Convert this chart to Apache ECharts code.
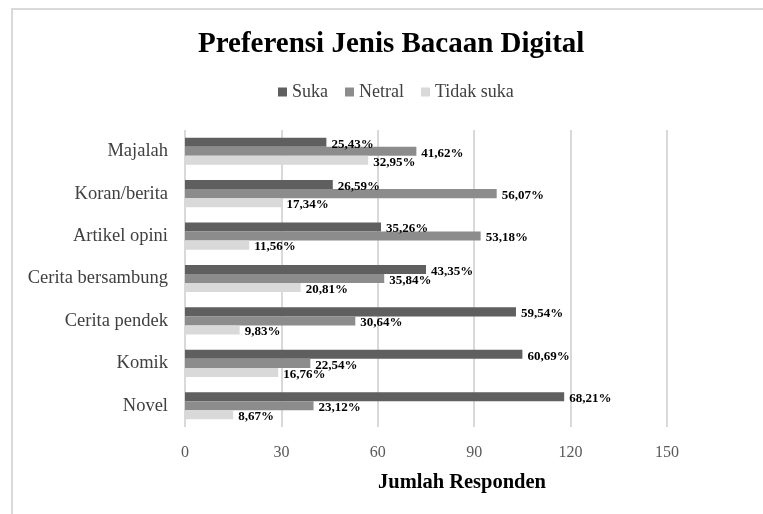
<!DOCTYPE html>
<html>
<head>
<meta charset="utf-8">
<script src="https://cdn.jsdelivr.net/npm/echarts@6/dist/echarts.min.js"></script>
<style>
  html, body { margin: 0; padding: 0; background: #fff; }
  #chart { width: 763px; height: 514px; }
</style>
</head>
<body>
<div id="chart"></div>
<script>
// jenis bacaan (atas ke bawah)
var categories = ['Majalah', 'Koran/berita', 'Artikel opini', 'Cerita bersambung', 'Cerita pendek', 'Komik', 'Novel'];
// jumlah responden per kategori
var suka = [44, 46, 61, 75, 103, 105, 118];
var netral = [72, 97, 92, 62, 53, 39, 40];
var tidakSuka = [57, 30, 20, 36, 17, 29, 15];
var totalResponden = 173;
var xTicks = { min: 0, max: 150, interval: 30 };

var serif = "'Liberation Serif', 'Times New Roman', serif";

// label persen pakai koma desimal
function persen(p) {
  return (p.value / totalResponden * 100).toFixed(2).replace('.', ',') + '%';
}

function barSeries(name, data, color) {
  return {
    name: name,
    type: 'bar',
    data: data,
    barGap: 0,
    barCategoryGap: '36%',
    itemStyle: { color: color },
    label: {
      show: true,
      position: 'right',
      distance: 5,
      offset: [0, 2],
      formatter: persen,
      color: '#000',
      fontFamily: serif,
      fontWeight: 'bold',
      fontSize: 13
    }
  };
}

var chart = echarts.init(document.getElementById('chart'));
var option = {
  backgroundColor: '#fff',
  animation: false,
  title: {
    text: 'Preferensi Jenis Bacaan Digital',
    left: 193,
    top: 25,
    textStyle: { fontFamily: serif, fontWeight: 'bold', fontSize: 29, color: '#000' }
  },
  legend: {
    top: 78,
    left: 273,
    icon: 'rect',
    itemWidth: 9,
    itemHeight: 9,
    itemGap: 17,
    textStyle: { fontFamily: serif, fontSize: 18, color: '#404040' },
    data: ['Suka', 'Netral', 'Tidak suka']
  },
  grid: { left: 185, right: 96, top: 130, bottom: 87 },
  xAxis: {
    type: 'value',
    min: xTicks.min,
    max: xTicks.max,
    interval: xTicks.interval,
    name: 'Jumlah Responden',
    nameLocation: 'middle',
    nameGap: 45,
    nameTextStyle: {
      fontFamily: serif, fontWeight: 'bold', fontSize: 20.5, color: '#000',
      padding: [0, 0, 0, 72]
    },
    axisLine: { show: false },
    axisTick: { show: false },
    axisLabel: { margin: 18, fontFamily: serif, fontSize: 16, color: '#595959' },
    splitLine: { lineStyle: { color: '#d9d9d9', width: 2 } }
  },
  yAxis: {
    type: 'category',
    inverse: true,
    data: categories,
    axisLine: { show: false },
    axisTick: { show: false },
    axisLabel: { margin: 17, fontFamily: serif, fontSize: 18.5, color: '#404040', padding: [4, 0, 0, 0] }
  },
  graphic: [{
    type: 'rect',
    shape: { x: 12, y: 9, width: 900, height: 900 },
    style: { fill: 'none', stroke: '#d9d9d9', lineWidth: 2 },
    silent: true
  }],
  series: [
    barSeries('Suka', suka, '#5f5f5f'),
    barSeries('Netral', netral, '#8c8c8c'),
    barSeries('Tidak suka', tidakSuka, '#d9d9d9')
  ]
};
chart.setOption(option);
</script>
</body>
</html>
